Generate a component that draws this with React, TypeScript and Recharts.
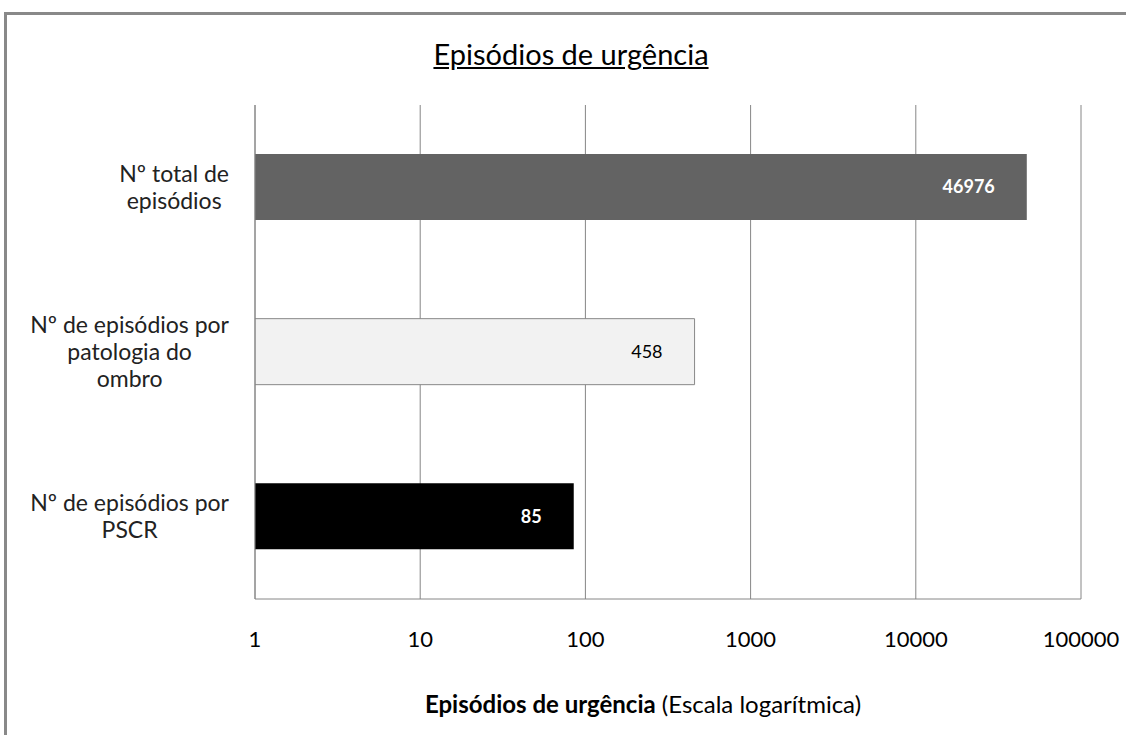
import React from "react";
import { BarChart, Bar, XAxis, YAxis, CartesianGrid, LabelList, Cell } from "recharts";

// categories as they appear on the y axis, top to bottom
const categories = [
  "Nº total de episódios",
  "Nº de episódios por patologia do ombro",
  "Nº de episódios por PSCR",
];
const categoryLines = [
  ["Nº total de", "episódios"],
  ["Nº de episódios por", "patologia do", "ombro"],
  ["Nº de episódios por", "PSCR"],
];
const episodes = [46976, 458, 85];
const xTicks = [1, 10, 100, 1000, 10000, 100000];

const barFills = ["#636363", "#f2f2f2", "#000000"];
const labelFills = ["#ffffff", "#000000", "#ffffff"];
const labelWeights = [700, 400, 700];

const data = categories.map((name, i) => ({ name, value: episodes[i] }));

const FONT = "Lato, 'Open Sans', sans-serif";

let ctx: CanvasRenderingContext2D | null = null;
const measure = (s: string, font: string) => {
  if (!ctx) ctx = document.createElement("canvas").getContext("2d");
  if (!ctx) return s.length * 11;
  ctx.font = font;
  return ctx.measureText(s).width;
};

const CategoryTick = (props: any) => {
  const { x, y, payload } = props;
  const i = categories.indexOf(payload.value);
  const lines = categoryLines[i] ?? [String(payload.value)];
  const w = Math.max(...lines.map((l) => measure(l, "23px Lato")));
  const cx = x - w / 2;
  const lh = 27;
  const y0 = y - ((lines.length - 1) * lh) / 2;
  return (
    <text textAnchor="middle" fontSize={23} fontFamily={FONT} fill="#222">
      {lines.map((l, k) => (
        <tspan key={k} x={cx} y={y0 + k * lh} dy="0.35em">
          {l}
        </tspan>
      ))}
    </text>
  );
};

const BarValueLabel = (props: any) => {
  const { x, y, width, height, value } = props;
  const i = episodes.indexOf(value);
  return (
    <text
      x={x + width - 32}
      y={y + height / 2}
      dy="0.35em"
      textAnchor="end"
      fontSize={18}
      fontWeight={labelWeights[i]}
      fontFamily={FONT}
      fill={labelFills[i]}
    >
      {value}
    </text>
  );
};

const AxisTitle = (props: any) => {
  const vb = props.viewBox;
  return (
    <text
      x={vb.x + vb.width / 2 - 25}
      y={vb.y + 106}
      dy="0.35em"
      textAnchor="middle"
      fontSize={24}
      fontFamily={FONT}
      fill="#000"
    >
      <tspan fontWeight={700}>Episódios de urgência</tspan>
      <tspan> (Escala logarítmica)</tspan>
    </text>
  );
};

export default function App() {
  return (
    <div
      style={{
        position: "absolute",
        left: 0,
        top: 0,
        width: 1126,
        height: 735,
        overflow: "hidden",
        background: "#fff",
      }}
    >
      <div
        style={{
          position: "absolute",
          left: 4,
          top: 12,
          width: 1300,
          height: 1000,
          border: "3px solid #898989",
        }}
      />
      <div
        style={{
          position: "absolute",
          left: 371,
          top: 36,
          width: 400,
          textAlign: "center",
          fontFamily: FONT,
          fontSize: 29,
          textDecoration: "underline",
          color: "#000",
        }}
      >
        Episódios de urgência
      </div>
      <div style={{ position: "absolute", left: 0, top: 0 }}>
        <BarChart
          width={1126}
          height={735}
          data={data}
          layout="vertical"
          margin={{ top: 105, right: 45, left: 0, bottom: 0 }}
          barSize={66}
        >
          <CartesianGrid horizontal={false} stroke="#868686" />
          <XAxis
            type="number"
            scale="log"
            domain={[1, 100000]}
            ticks={xTicks}
            allowDataOverflow
            height={136}
            axisLine={{ stroke: "#868686" }}
            tickLine={false}
            tickSize={0}
            tickMargin={32}
            tick={{ fontSize: 22, fill: "#000", fontFamily: FONT }}
            interval={0}
            label={{ content: AxisTitle }}
          />
          <YAxis
            type="category"
            dataKey="name"
            width={255}
            axisLine={{ stroke: "#868686" }}
            tickLine={false}
            tickSize={0}
            tickMargin={26}
            tick={<CategoryTick />}
            interval={0}
          />
          <Bar dataKey="value" isAnimationActive={false}>
            {data.map((d, i) => (
              <Cell
                key={d.name}
                fill={barFills[i]}
                stroke={i === 1 ? "#888888" : "none"}
              />
            ))}
            <LabelList dataKey="value" content={<BarValueLabel />} />
          </Bar>
        </BarChart>
      </div>
    </div>
  );
}
